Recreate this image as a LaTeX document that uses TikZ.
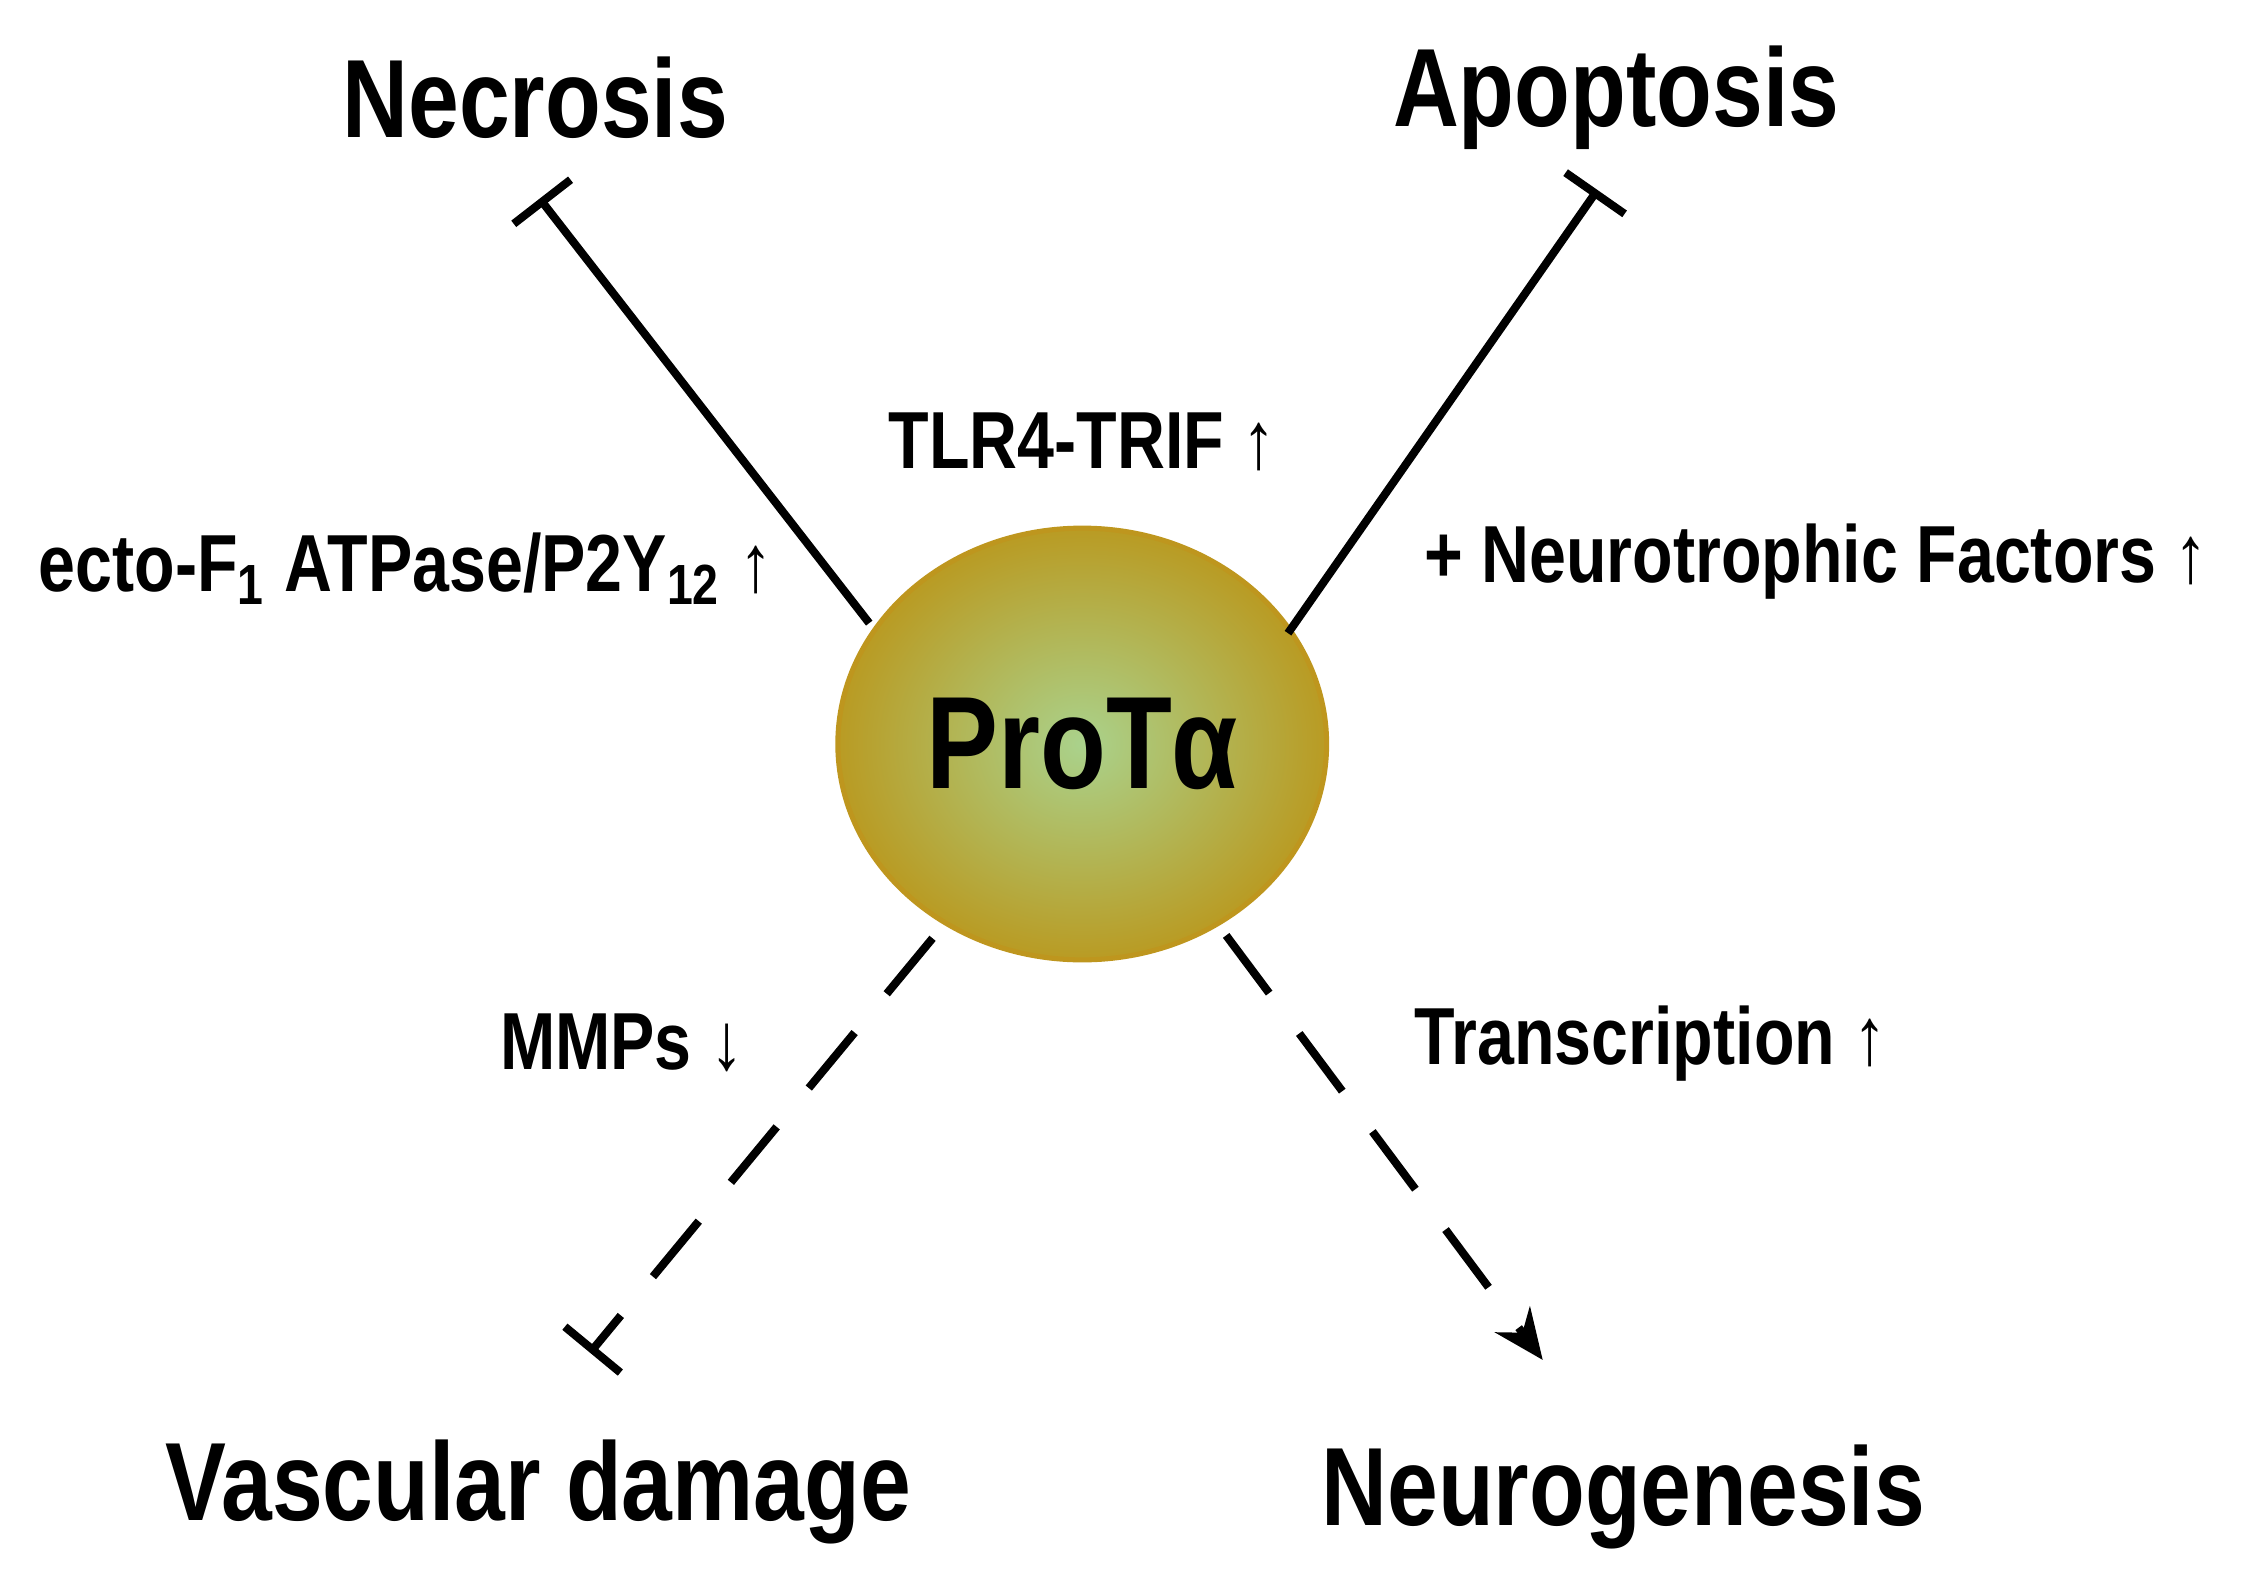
\documentclass[tikz,border=0pt]{standalone}
\usepackage{fontspec}
\setmainfont{Liberation Sans}[FakeStretch=0.82]
\usetikzlibrary{arrows.meta,shapes.geometric}
\definecolor{goldedge}{RGB}{190,150,30}
\definecolor{goldfill}{RGB}{185,155,35}
\definecolor{greenmid}{RGB}{170,210,140}
\tikzset{
  outcome/.style={font=\bfseries\fontsize{22}{26}\selectfont},
  effect/.style={font=\bfseries\fontsize{16}{19}\selectfont},
  block/.style={line width=1.6pt, -{Bar[width=5mm,line width=1.6pt]}},
  dashblock/.style={block, dash pattern=on 5mm off 3.5mm},
  dashact/.style={line width=1.6pt, dash pattern=on 5mm off 3.5mm, -{Stealth[length=3.5mm,width=3mm]}}
}
\begin{document}
\begin{tikzpicture}
    \useasboundingbox (0,0) rectangle (15.6,11);
    \node (P) [ellipse, minimum width=3.1cm, minimum height=3cm, draw=goldedge, line width=1pt,
      inner color=greenmid, outer color=goldfill] at (7.52,5.83)
      {\bfseries\fontsize{26}{30}\selectfont ProTα};
    \node (N) [outcome] at (3.72,10.32) {Necrosis};
    \node (A) [outcome] at (11.23,10.32) {Apoptosis};
    \node (V) [outcome] at (3.74,0.63) {Vascular damage};
    \node (G) [outcome] at (11.28,0.60) {Neurogenesis};
    \node (T) [effect] at (7.52,7.93) {TLR4-TRIF ↑};
    \node (E) [effect] at (2.82,7.05) {ecto-F\textsubscript{1} ATPase/P2Y\textsubscript{12} ↑};
    \node (F) [effect] at (12.62,7.10) {+ Neurotrophic Factors ↑};
    \node (M) [effect] at (4.32,3.75) {MMPs ↓};
    \node (R) [effect] at (11.47,3.75) {Transcription ↑};
    % connector ends
    \coordinate (n1) at (6.04,6.67); \coordinate (n2) at (3.75,9.62);
    \coordinate (a1) at (8.95,6.60); \coordinate (a2) at (11.10,9.68);
    \coordinate (v1) at (6.48,4.48); \coordinate (v2) at (4.10,1.60);
    \coordinate (g1) at (8.52,4.50); \coordinate (g2) at (10.72,1.55);
    \draw[block] (n1) -- (n2);
    \draw[block] (a1) -- (a2);
    \draw[dashblock] (v1) -- (v2);
    \draw[dashact] (g1) -- (g2);
\end{tikzpicture}
\end{document}
